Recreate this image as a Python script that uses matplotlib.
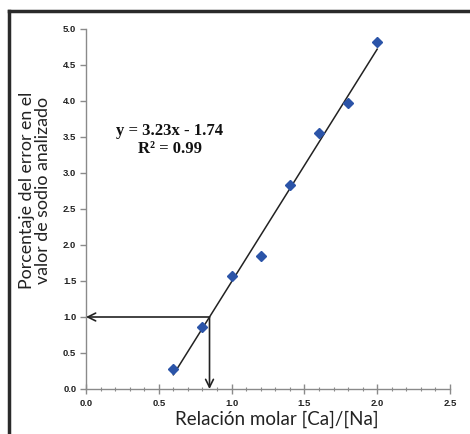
import matplotlib
matplotlib.use("Agg")
import matplotlib.pyplot as plt
import numpy as np
from matplotlib.ticker import MultipleLocator, FormatStrFormatter
from matplotlib.lines import Line2D

# Data
ratio = [0.6, 0.8, 1.0, 1.2, 1.4, 1.6, 1.8, 2.0]
error_pct = [0.28, 0.86, 1.57, 1.85, 2.84, 3.55, 3.97, 4.82]
slope, intercept = 3.23, -1.74
target_y = 1.0
eq_text = "y = 3.23x - 1.74\nR² = 0.99"
xlabel = "Relación molar [Ca]/[Na]"
ylabel = "Porcentaje del error en el\nvalor de sodio analizado"

W, H = 470, 434
fig = plt.figure(figsize=(W/100, H/100), dpi=100)
ax = fig.add_axes([86/W, 1-389/H, (450-86)/W, (389-29)/H])

axis_col = "#8a8a8a"
ax.set_xlim(0, 2.5)
ax.set_ylim(0, 5.0)
for s in ["top", "right"]:
    ax.spines[s].set_visible(False)
for s in ["left", "bottom"]:
    ax.spines[s].set_color(axis_col)
    ax.spines[s].set_linewidth(1.0)

ax.xaxis.set_major_locator(MultipleLocator(0.5))
ax.xaxis.set_minor_locator(MultipleLocator(0.1))
ax.yaxis.set_major_locator(MultipleLocator(0.5))
ax.xaxis.set_major_formatter(FormatStrFormatter("%.1f"))
ax.yaxis.set_major_formatter(FormatStrFormatter("%.1f"))
ax.tick_params(axis="x", which="major", direction="inout", length=7, width=1, color=axis_col, pad=4)
ax.tick_params(axis="x", which="minor", direction="inout", length=3, width=0.8, color=axis_col)
ax.tick_params(axis="y", which="major", direction="out", length=4, width=1, color=axis_col, pad=3)
for lab in ax.get_xticklabels() + ax.get_yticklabels():
    lab.set_fontfamily("Liberation Sans")
    lab.set_fontweight("bold")
    lab.set_fontsize(6.8)
    lab.set_color("#222222")

# trend line
xs = np.array([min(ratio), max(ratio)])
ax.plot(xs, slope*xs + intercept, color="#222222", lw=1.1, zorder=2)
ax.plot(ratio, error_pct, linestyle="none", marker="D", markersize=5,
        color="#2b54a8", markeredgecolor="#2b54a8", zorder=3)

# arrows
x_at = (target_y - intercept) / slope
ax.annotate("", xy=(0.0, target_y), xytext=(x_at, target_y),
            arrowprops=dict(arrowstyle="->", color="#222222", lw=1.2,
                            mutation_scale=14, shrinkA=0, shrinkB=0), zorder=4)
ax.annotate("", xy=(x_at, 0.0), xytext=(x_at, target_y),
            arrowprops=dict(arrowstyle="->", color="#222222", lw=1.2,
                            mutation_scale=14, shrinkA=0, shrinkB=0), zorder=4)

ax.text(0.575, 3.46, eq_text, ha="center", va="center", family="Liberation Serif",
        fontweight="bold", fontsize=12, color="#111111", linespacing=1.2)

fig.text(35/W, 1-190/H, ylabel, rotation=90, ha="center", va="center",
         family="Lato", fontsize=12.8, color="#222222", linespacing=1.05)
fig.text(277/W, 1-419/H, xlabel, ha="center", va="center",
         family="Lato", fontsize=13.5, color="#222222")

# frame lines (top and left)
fig.add_artist(Line2D([9/W, 1.0], [1-11/H, 1-11/H], transform=fig.transFigure,
                      color="#2a2a2a", lw=2.5))
fig.add_artist(Line2D([9/W, 9/W], [0, 1-11/H], transform=fig.transFigure,
                      color="#2a2a2a", lw=2.5))

fig.savefig("out.png", dpi=100)
